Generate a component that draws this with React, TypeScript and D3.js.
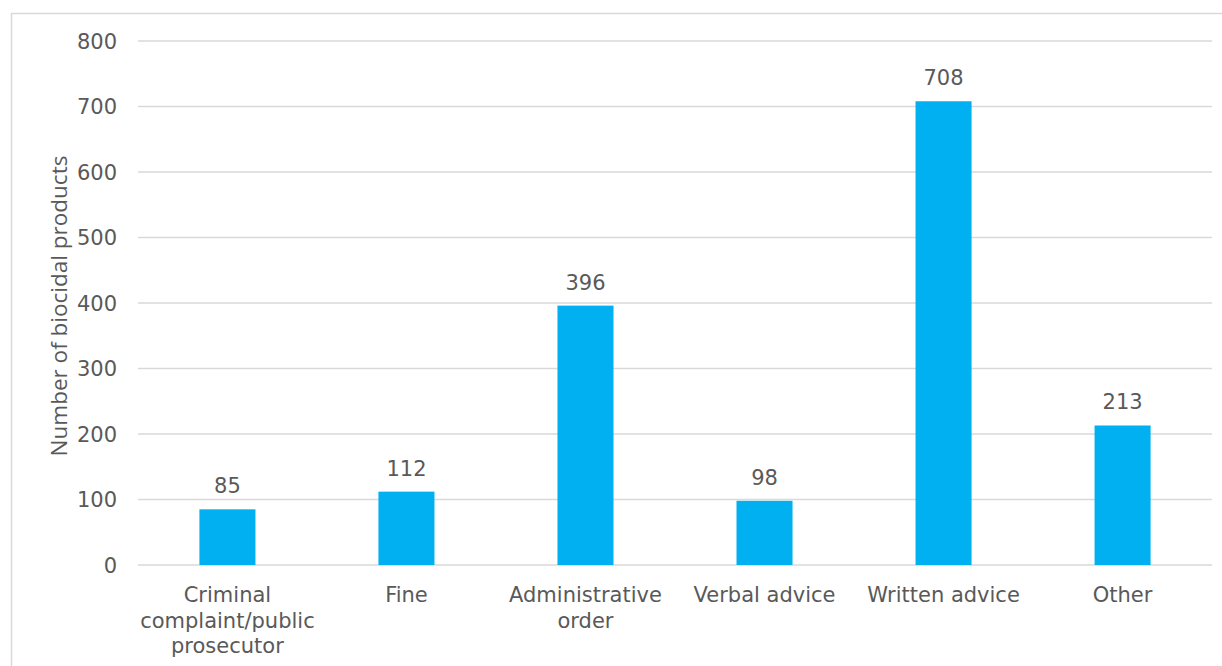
import React from "react";
import * as d3 from "d3";

const categories: string[][] = [
  ["Criminal", "complaint/public", "prosecutor"],
  ["Fine"],
  ["Administrative", "order"],
  ["Verbal advice"],
  ["Written advice"],
  ["Other"],
];
const values: number[] = [85, 112, 396, 98, 708, 213];
const yTicks: number[] = [0, 100, 200, 300, 400, 500, 600, 700, 800];
const yTitle = "Number of biocidal products";

const W = 1222;
const H = 666;
const left = 138;
const right = 1212;
const top = 41;
const bottom = 565;
const textColor = "#595959";
const gridColor = "#d9d9d9";
const barColor = "#00B0F0";
const font = "'DejaVu Sans', Verdana, sans-serif";
const fs = 21;

export default function App() {
  const keys = categories.map((c) => c.join(" "));
  const x = d3.scaleBand<string>().domain(keys).range([left, right]).paddingInner(0.687).paddingOuter(0.343);
  const y = d3.scaleLinear().domain([0, 800]).range([bottom, top]);

  return (
    <svg width={W} height={H} style={{ position: "absolute", left: 0, top: 0, background: "#fff" }}>
      <rect x={11.5} y={13.5} width={W} height={H} fill="none" stroke={gridColor} strokeWidth={1.5} />
      {yTicks.map((t) => (
        <g key={t}>
          <line x1={left} x2={right} y1={y(t)} y2={y(t)} stroke={gridColor} strokeWidth={1.5} />
          <text x={117} y={y(t)} dy="0.36em" textAnchor="end" fill={textColor} fontFamily={font} fontSize={fs}>
            {t}
          </text>
        </g>
      ))}
      {values.map((v, i) => {
        const k = keys[i];
        const bx = x(k)!;
        const bw = x.bandwidth();
        return (
          <g key={k}>
            <rect x={bx} y={y(v)} width={bw} height={y(0) - y(v)} fill={barColor} />
            <text x={bx + bw / 2} y={y(v) - 16} textAnchor="middle" fill={textColor} fontFamily={font} fontSize={fs}>
              {v}
            </text>
          </g>
        );
      })}
      {categories.map((lines, i) => {
        const k = keys[i];
        const cx = x(k)! + x.bandwidth() / 2;
        return (
          <text key={k} textAnchor="middle" fill={textColor} fontFamily={font} fontSize={fs}>
            {lines.map((l, j) => (
              <tspan key={j} x={cx} y={602 + j * 25.5}>
                {l}
              </tspan>
            ))}
          </text>
        );
      })}
      <text
        transform={`translate(67,306) rotate(-90)`}
        textAnchor="middle"
        fill={textColor}
        fontFamily="'Open Sans', sans-serif"
        fontSize={22.5}
      >
        {yTitle}
      </text>
    </svg>
  );
}
